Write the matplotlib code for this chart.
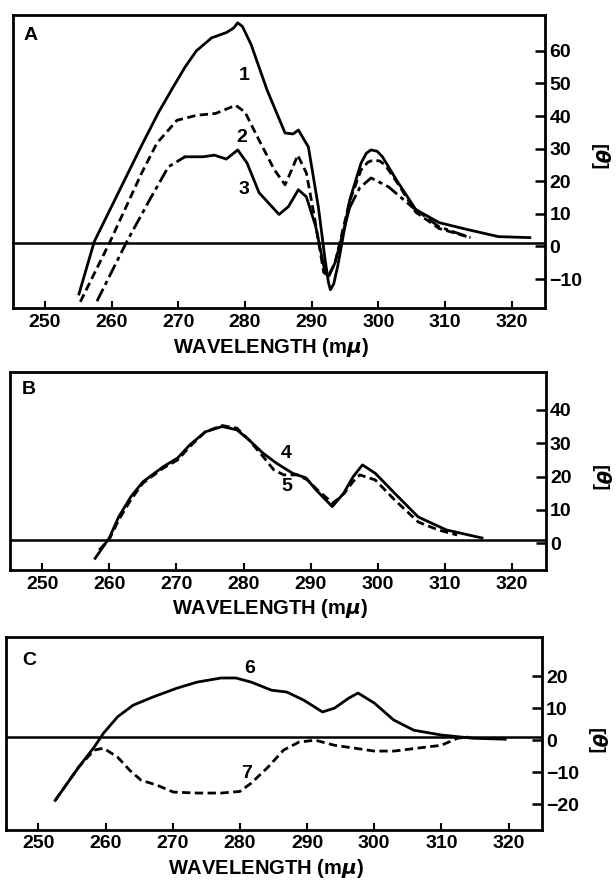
# -*- coding: utf-8 -*-
"""CD spectra, three stacked panels (A, B, C), redrawn from the scanned figure."""
import matplotlib
matplotlib.use("Agg")
import matplotlib.pyplot as plt

# ---- panel A ----
wl1 = [255.1, 257.4, 264.5, 267.0, 269.2, 271.0, 272.7, 275.0, 277.2, 278.3, 278.9,
       279.6, 280.9, 283.3, 286.0, 287.2, 288.0, 289.5, 291.0, 292.0, 292.5, 292.8,
       293.3, 293.9, 295.7, 297.4, 298.2, 298.9, 299.8, 300.6, 302.7, 305.6, 309.1,
       313.3, 318.0, 322.7]
th1 = [-14.6, 1.5, 31.0, 41.0, 48.8, 55.0, 60.0, 64.0, 65.6, 67.0, 68.6,
       67.5, 62.0, 48.0, 34.8, 34.5, 35.7, 30.5, 12.0, -4.0, -11.0, -13.3,
       -11.5, -6.0, 14.3, 25.6, 28.6, 29.6, 29.2, 27.5, 20.4, 11.3, 7.3,
       5.2, 3.0, 2.7]

wl2 = [255.3, 259.7, 264.5, 266.8, 269.8, 272.7, 275.6, 278.6, 280.0, 282.1, 284.4,
       286.0, 287.0, 287.9, 289.2, 290.4, 291.8, 292.5, 293.5, 295.7, 297.4, 298.4,
       299.2, 300.2, 301.0, 303.0, 305.6, 309.1, 313.8]
th2 = [-17.0, 1.2, 22.5, 31.7, 38.7, 40.2, 40.8, 43.3, 41.2, 32.6, 23.5,
       18.9, 23.5, 28.0, 22.5, 9.1, -8.0, -9.0, -5.0, 14.0, 23.5, 25.8,
       26.5, 26.2, 25.0, 19.0, 10.5, 5.5, 2.7]

wl3 = [257.8, 262.2, 265.7, 268.5, 271.0, 273.7, 275.4, 277.2, 278.9, 280.3, 282.1,
       285.1, 286.5, 288.0, 289.2, 290.6, 292.0, 292.6, 293.5, 295.7, 297.2, 298.9,
       301.5, 305.0, 309.1, 313.8]
th3 = [-16.8, 1.2, 14.3, 24.4, 27.5, 27.5, 28.0, 26.8, 29.6, 25.6, 16.5,
       9.8, 12.2, 17.4, 15.2, 6.1, -8.0, -9.0, -5.0, 12.0, 18.0, 21.0,
       18.3, 12.2, 6.0, 2.7]

# ---- panel B ----
wl4 = [257.9, 260.0, 261.4, 263.2, 265.0, 268.0, 270.2, 272.0, 274.3, 276.8, 279.0,
       280.8, 282.9, 284.9, 287.3, 289.3, 290.8, 293.2, 294.9, 296.3, 297.7, 299.6,
       302.5, 306.0, 310.2, 315.5]
th4 = [-4.5, 1.6, 7.9, 13.9, 18.4, 22.9, 25.6, 29.5, 33.4, 35.0, 34.0,
       31.0, 27.0, 24.0, 21.0, 19.6, 16.0, 11.0, 15.0, 19.9, 23.5, 21.0,
       15.0, 7.9, 4.0, 1.6]

wl5 = [258.5, 260.0, 261.4, 263.2, 265.0, 268.0, 270.2, 272.0, 274.3, 276.8, 279.0,
       280.8, 282.9, 284.5, 286.0, 288.0, 289.5, 291.0, 293.3, 295.0, 296.3, 297.3,
       299.6, 302.5, 306.0, 309.0, 311.8]
th5 = [-2.0, 1.2, 7.0, 13.0, 18.0, 22.5, 25.0, 29.0, 33.4, 35.3, 34.5,
       31.0, 26.0, 22.0, 20.5, 20.5, 19.0, 16.0, 12.0, 15.0, 18.5, 20.5,
       19.0, 13.0, 6.4, 4.0, 2.5]

# ---- panel C ----
wl6 = [252.5, 256.0, 258.3, 259.7, 261.8, 264.1, 267.1, 270.6, 273.6, 277.2, 279.4,
       281.7, 284.7, 287.0, 289.5, 292.3, 294.1, 296.2, 297.6, 300.0, 302.9, 305.9,
       310.0, 314.7, 319.5]
th6 = [-18.8, -8.4, -2.2, 2.2, 7.3, 10.9, 13.5, 16.2, 18.1, 19.4, 19.4,
       18.1, 15.6, 15.0, 12.5, 8.8, 10.0, 13.1, 14.7, 11.6, 6.3, 3.1,
       1.6, 0.6, 0.3]

wl7 = [252.5, 256.0, 258.3, 259.7, 261.8, 263.6, 265.3, 267.6, 270.1, 273.6, 277.2,
       280.0, 281.7, 284.2, 286.5, 288.8, 291.2, 294.1, 297.1, 300.0, 303.0, 306.4,
       310.0, 312.4, 314.0]
th7 = [-18.8, -8.4, -3.1, -2.5, -5.3, -9.4, -12.5, -14.0, -16.2, -16.5, -16.5,
       -16.0, -13.4, -8.4, -3.1, -0.6, 0.0, -1.6, -2.5, -3.4, -3.4, -2.5,
       -1.6, 0.6, 1.0]

xticks = [250, 260, 270, 280, 290, 300, 310, 320]
yticks_a = [-10, 0, 10, 20, 30, 40, 50, 60]
yticks_b = [0, 10, 20, 30, 40]
yticks_c = [-20, -10, 0, 10, 20]

# curve labels: (text, wavelength, theta)
labels_a = [("1", 279.8, 52.4), ("2", 279.5, 33.5), ("3", 279.8, 17.4)]
labels_b = [("4", 286.4, 27.0), ("5", 286.4, 17.0)]
labels_c = [("6", 281.5, 22.5), ("7", 281.0, -10.3)]

FONT = ["Liberation Sans", "DejaVu Sans"]
plt.rcParams["font.family"] = FONT
plt.rcParams["font.weight"] = "bold"
plt.rcParams["mathtext.fontset"] = "dejavusans"

LW = 2.0
DASH = (0, (3.0, 1.6))
DASHDOT = (0, (5.0, 1.6, 1.5, 1.6))


def style_axis(ax, ylim, yticks, letter, letter_pos, theta_y):
    ax.set_xlim(245.2, 325.0)
    ax.set_ylim(*ylim)
    ax.axhline(1.0, color="black", lw=1.8, zorder=1)
    ax.set_xticks(xticks)
    ax.set_yticks(yticks)
    ax.yaxis.tick_right()
    ax.tick_params(axis="x", direction="in", length=5, width=1.5, pad=4, labelsize=14)
    ax.tick_params(axis="y", direction="in", length=7, width=1.8, pad=3, labelsize=14)
    for lab in ax.get_xticklabels() + ax.get_yticklabels():
        lab.set_fontweight("bold")
    for sp in ax.spines.values():
        sp.set_linewidth(2.0)
    ax.text(letter_pos[0], letter_pos[1], letter, transform=ax.transAxes,
            fontsize=14, fontweight="bold", ha="center", va="center")
    ax.annotate("WAVELENGTH (m$\\mu$)", xy=(0.485, 0), xycoords="axes fraction",
                xytext=(0, -28), textcoords="offset points",
                ha="center", va="center", fontsize=14.5, fontweight="bold")
    ax.annotate("[$\\theta$]", xy=(1, theta_y), xycoords="axes fraction",
                xytext=(40, 0), textcoords="offset points",
                ha="center", va="center", rotation=270, fontsize=14, fontweight="bold")


def put_labels(ax, labels):
    for txt, x, y in labels:
        ax.text(x, y, txt, fontsize=14, fontweight="bold", ha="center", va="center")


fig = plt.figure(figsize=(6.16, 8.81), dpi=100)
ax_a = fig.add_axes([0.021, 0.650, 0.864, 0.333])
ax_b = fig.add_axes([0.016, 0.353, 0.870, 0.225])
ax_c = fig.add_axes([0.010, 0.058, 0.870, 0.219])

# A
ax_a.plot(wl1, th1, color="black", lw=LW, solid_joinstyle="round")
ax_a.plot(wl2, th2, color="black", lw=LW, linestyle=DASH)
# curve 3: dash-dot at the ends, solid through the middle
i0, i1 = 4, 19
ax_a.plot(wl3[:i0 + 1], th3[:i0 + 1], color="black", lw=LW, linestyle=DASHDOT)
ax_a.plot(wl3[i0:i1 + 1], th3[i0:i1 + 1], color="black", lw=LW, solid_joinstyle="round")
ax_a.plot(wl3[i1:], th3[i1:], color="black", lw=LW, linestyle=DASHDOT)
put_labels(ax_a, labels_a)
style_axis(ax_a, (-19, 71), yticks_a, "A", (0.034, 0.93), 0.52)

# B
ax_b.plot(wl4, th4, color="black", lw=LW, solid_joinstyle="round")
ax_b.plot(wl5, th5, color="black", lw=LW, linestyle=DASH)
put_labels(ax_b, labels_b)
style_axis(ax_b, (-8, 51.4), yticks_b, "B", (0.035, 0.91), 0.47)

# C
ax_c.plot(wl6, th6, color="black", lw=LW, solid_joinstyle="round")
ax_c.plot(wl7, th7, color="black", lw=LW, linestyle=DASH)
put_labels(ax_c, labels_c)
style_axis(ax_c, (-28, 32.2), yticks_c, "C", (0.043, 0.88), 0.47)

fig.savefig("out.png", dpi=100)
plt.close(fig)
